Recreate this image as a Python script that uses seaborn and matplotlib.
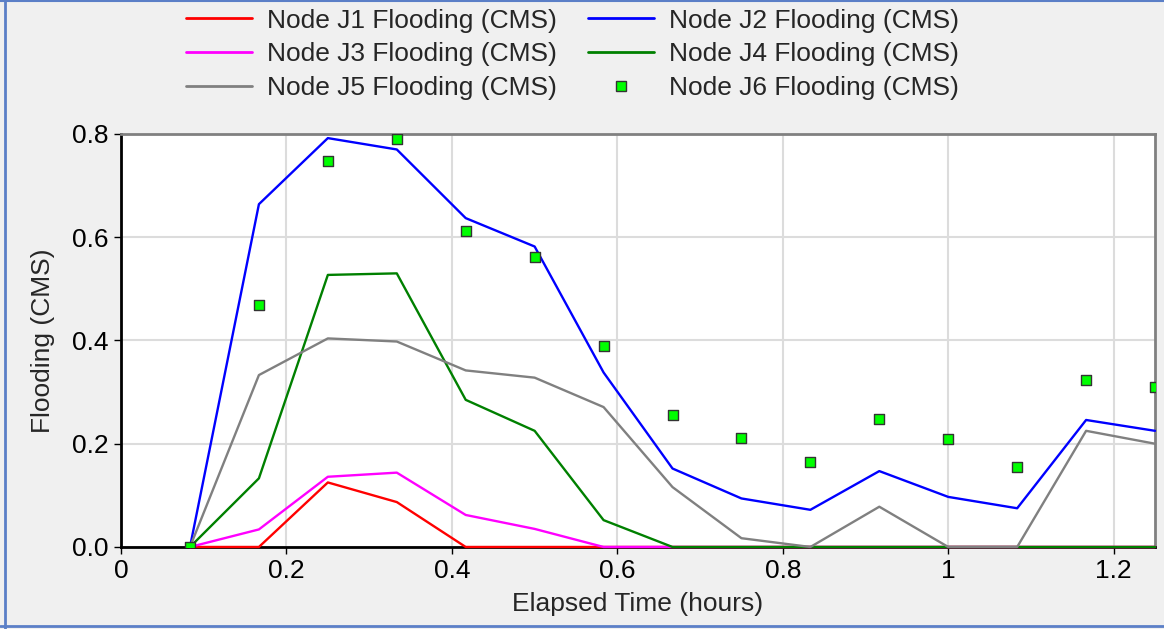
import numpy as np
import pandas as pd
import matplotlib
matplotlib.use("Agg")
import matplotlib.pyplot as plt
from matplotlib.lines import Line2D
import seaborn as sns

# ---- data ----
time_hours = [1/12, 2/12, 3/12, 4/12, 5/12, 6/12, 7/12, 8/12, 9/12, 10/12, 11/12, 12/12, 13/12, 14/12, 15/12]
j1 = [0.0, 0.0, 0.125, 0.087, 0.0, 0.0, 0.0, 0.0, 0.0, 0.0, 0.0, 0.0, 0.0, 0.0, 0.0]
j2 = [0.0, 0.664, 0.792, 0.770, 0.637, 0.582, 0.338, 0.152, 0.094, 0.072, 0.147, 0.097, 0.075, 0.246, 0.225]
j3 = [0.0, 0.034, 0.136, 0.144, 0.062, 0.035, 0.0, 0.0, 0.0, 0.0, 0.0, 0.0, 0.0, 0.0, 0.0]
j4 = [0.0, 0.133, 0.527, 0.530, 0.285, 0.225, 0.052, 0.0, 0.0, 0.0, 0.0, 0.0, 0.0, 0.0, 0.0]
j5 = [0.0, 0.333, 0.404, 0.398, 0.342, 0.328, 0.271, 0.116, 0.017, 0.0, 0.078, 0.0, 0.0, 0.225, 0.200]
j6 = [0.0, 0.468, 0.748, 0.791, 0.612, 0.561, 0.390, 0.256, 0.211, 0.164, 0.248, 0.209, 0.154, 0.324, 0.309]

line_names = ["Node J1 Flooding (CMS)", "Node J2 Flooding (CMS)", "Node J3 Flooding (CMS)",
              "Node J4 Flooding (CMS)", "Node J5 Flooding (CMS)"]
point_name = "Node J6 Flooding (CMS)"
line_colors = ["#ff0000", "#0000ff", "#ff00ff", "#008000", "#808080"]
x_ticks = [0, 0.2, 0.4, 0.6, 0.8, 1.0, 1.2]
x_tick_labels = ["0", "0.2", "0.4", "0.6", "0.8", "1", "1.2"]
y_ticks = [0.0, 0.2, 0.4, 0.6, 0.8]
y_tick_labels = ["0.0", "0.2", "0.4", "0.6", "0.8"]

lines_df = pd.DataFrame({
    "time": time_hours * 5,
    "flow": j1 + j2 + j3 + j4 + j5,
    "series": sum([[n] * len(time_hours) for n in line_names], []),
})
pts_df = pd.DataFrame({"time": time_hours, "flow": j6})

sns.set_theme(style="whitegrid")
plt.rcParams["font.family"] = ["Liberation Sans", "DejaVu Sans"]

fig = plt.figure(figsize=(11.64, 6.29), dpi=100, facecolor="#f0f0f0")
ax = fig.add_axes([0.104, 0.1304, 0.8883, 0.6566])
ax.set_facecolor("white")

sns.lineplot(data=lines_df, x="time", y="flow", hue="series", hue_order=line_names,
             palette=line_colors, linewidth=1.7, ax=ax, legend=False, clip_on=False, zorder=3)
sns.scatterplot(data=pts_df, x="time", y="flow", marker="s", s=55, color="#00ff00",
                edgecolor="#333333", linewidth=1.0, ax=ax, legend=False, zorder=4)

ax.set_xlim(0, 1.25)
ax.set_ylim(0, 0.8)
ax.set_xticks(x_ticks)
ax.set_xticklabels(x_tick_labels)
ax.set_yticks(y_ticks)
ax.set_yticklabels(y_tick_labels)
ax.grid(True, color="#dcdcdc", linewidth=1.5)
ax.tick_params(axis="both", labelsize=19, colors="#000000", length=5, width=1, pad=4,
               direction="out", left=True, bottom=True)
for t in ax.get_xticklines() + ax.get_yticklines():
    t.set_color("#808080")

for side in ["left", "bottom"]:
    ax.spines[side].set_color("black")
    ax.spines[side].set_linewidth(2)
for side in ["top", "right"]:
    ax.spines[side].set_color("#808080")
    ax.spines[side].set_linewidth(2)
for s in ax.spines.values():
    s.set_zorder(2)

ax.set_xlabel("Elapsed Time (hours)", fontsize=19, labelpad=6)
ax.set_ylabel("Flooding (CMS)", fontsize=19, labelpad=12)

# legend (column-wise order so rows read J1/J2, J3/J4, J5/J6)
handles = {}
for n, c in zip(line_names, line_colors):
    handles[n] = Line2D([], [], color=c, linewidth=2)
handles[point_name] = Line2D([], [], linestyle="none", marker="s", markersize=7,
                             markerfacecolor="#00ff00", markeredgecolor="#333333")
order = [line_names[0], line_names[2], line_names[4], line_names[1], line_names[3], point_name]
fig.legend([handles[o] for o in order], order, loc="upper center", bbox_to_anchor=(0.492, 1.024),
           ncol=2, frameon=False, fontsize=19, handlelength=2.5, handletextpad=0.55,
           columnspacing=1.2, labelspacing=0.37)

# blue window border
bc = "#5b7fc7"
fig.add_artist(Line2D([0.004, 0.004], [0.0, 1.0], transform=fig.transFigure, color=bc, linewidth=2))
fig.add_artist(Line2D([0.0, 1.0], [0.999, 0.999], transform=fig.transFigure, color=bc, linewidth=1.5))
fig.add_artist(Line2D([0.0, 1.0], [0.004, 0.004], transform=fig.transFigure, color=bc, linewidth=2))

fig.savefig("out.png", dpi=100, facecolor=fig.get_facecolor())
